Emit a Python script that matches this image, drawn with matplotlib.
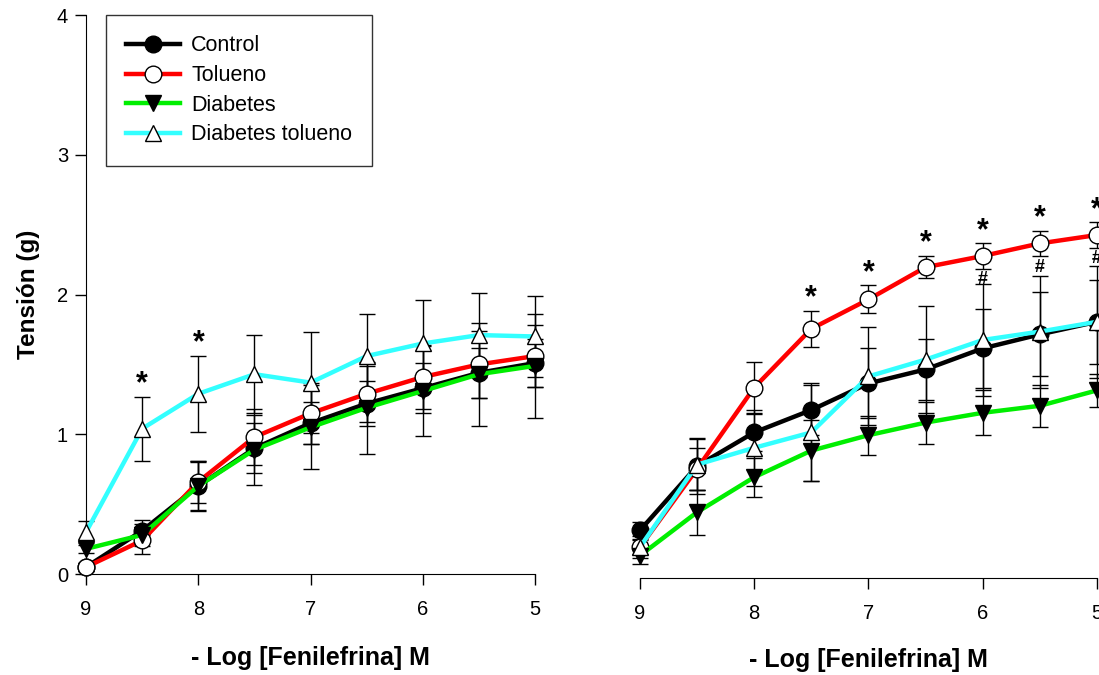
import numpy as np
import matplotlib
matplotlib.use("Agg")
import matplotlib.pyplot as plt

plt.rcParams['font.family'] = ['Liberation Sans', 'DejaVu Sans']

# concentraciones (- log M)
dosis = [9, 8.5, 8, 7.5, 7, 6.5, 6, 5.5, 5]

# panel izquierdo
izq_control = [0.05, 0.31, 0.63, 0.90, 1.08, 1.22, 1.33, 1.44, 1.51]
izq_control_err = [0.03, 0.08, 0.18, 0.18, 0.15, 0.16, 0.18, 0.18, 0.17]
izq_tolueno = [0.05, 0.24, 0.66, 0.98, 1.15, 1.29, 1.41, 1.50, 1.56]
izq_tolueno_err = [0.03, 0.10, 0.15, 0.20, 0.22, 0.20, 0.23, 0.24, 0.22]
izq_diabetes = [0.18, 0.28, 0.63, 0.89, 1.05, 1.19, 1.31, 1.43, 1.49]
izq_diabetes_err = [0.03, 0.08, 0.17, 0.25, 0.30, 0.33, 0.32, 0.37, 0.37]
izq_diab_tol = [0.30, 1.04, 1.29, 1.43, 1.37, 1.56, 1.65, 1.71, 1.70]
izq_diab_tol_err = [0.08, 0.23, 0.27, 0.28, 0.36, 0.30, 0.31, 0.30, 0.29]

# panel derecho
der_control = [0.34, 0.80, 1.04, 1.20, 1.39, 1.49, 1.64, 1.74, 1.83]
der_control_err = [0.06, 0.20, 0.13, 0.18, 0.25, 0.22, 0.28, 0.30, 0.30]
der_tolueno = [0.22, 0.78, 1.36, 1.78, 1.99, 2.22, 2.30, 2.39, 2.45]
der_tolueno_err = [0.05, 0.15, 0.18, 0.13, 0.10, 0.08, 0.09, 0.09, 0.09]
der_diabetes = [0.16, 0.47, 0.72, 0.91, 1.02, 1.11, 1.18, 1.23, 1.34]
der_diabetes_err = [0.06, 0.16, 0.14, 0.22, 0.14, 0.15, 0.16, 0.15, 0.12]
der_diab_tol = [0.22, 0.81, 0.93, 1.04, 1.44, 1.56, 1.70, 1.76, 1.83]
der_diab_tol_err = [0.08, 0.18, 0.27, 0.35, 0.35, 0.38, 0.40, 0.40, 0.40]

nombres = ["Control", "Tolueno", "Diabetes", "Diabetes tolueno"]
colores = ["black", "#ff0000", "#00ee00", "#33ffff"]
marcadores = ["o", "o", "v", "^"]
relleno = ["black", "white", "black", "white"]

izq_aster = [8.5, 8]
der_aster = [7.5, 7, 6.5, 6, 5.5, 5]
der_gato = [6, 5.5, 5]


def dibuja(ax, medias, errores, lp):
    for i in range(4):
        ax.errorbar(dosis, medias[i], yerr=errores[i], fmt='none', ecolor='black',
                    elinewidth=1, capsize=6, capthick=1, zorder=2, clip_on=False)
    for i in range(4):
        ax.plot(dosis, medias[i], color=colores[i], lw=3.2, marker=marcadores[i],
                markersize=12, markerfacecolor=relleno[i], markeredgecolor='black',
                markeredgewidth=1, label=nombres[i], zorder=3 + i, clip_on=False)
    ax.set_xlim(9, 5)
    ax.set_ylim(0, 4)
    ax.set_xticks([9, 8, 7, 6, 5])
    ax.spines['top'].set_visible(False)
    ax.spines['right'].set_visible(False)
    ax.tick_params(labelsize=14.5, length=8, width=1)
    ax.tick_params(axis='x', pad=11)
    ax.set_xlabel("- Log [Fenilefrina] M", fontsize=18, fontweight='bold', labelpad=lp)


fig = plt.figure(figsize=(10.99, 6.75), dpi=100)

ax1 = fig.add_axes([0.0783, 0.1496, 0.4086, 0.828])
dibuja(ax1, [izq_control, izq_tolueno, izq_diabetes, izq_diab_tol],
       [izq_control_err, izq_tolueno_err, izq_diabetes_err, izq_diab_tol_err], 19)
ax1.set_yticks([0, 1, 2, 3, 4])
ax1.tick_params(axis='y', pad=5)
ax1.spines['bottom'].set_bounds(9.06, 5)
ax1.set_ylabel("Tensión (g)", fontsize=17.5, fontweight='bold', labelpad=12)
for d in izq_aster:
    k = dosis.index(d)
    ax1.text(d, izq_diab_tol[k] + izq_diab_tol_err[k] + 0.09, "*", ha='center', va='center',
             fontsize=22, fontweight='bold')

leg = ax1.legend(loc='upper left', bbox_to_anchor=(106 / 1099, 1 - 15 / 675),
                 bbox_transform=fig.transFigure, borderaxespad=0, fontsize=15.5,
                 frameon=True, fancybox=False, edgecolor='black', handlelength=2.5,
                 handletextpad=0.5, borderpad=0.95, labelspacing=0.4)
leg.get_frame().set_linewidth(1)

ax2 = fig.add_axes([0.5823, 0.1437, 0.4158, 0.8296])
dibuja(ax2, [der_control, der_tolueno, der_diabetes, der_diab_tol],
       [der_control_err, der_tolueno_err, der_diabetes_err, der_diab_tol_err], 18)
ax2.spines['left'].set_visible(False)
ax2.set_yticks([])
for d in der_aster:
    k = dosis.index(d)
    ax2.text(d, der_tolueno[k] + der_tolueno_err[k] + 0.09, "*", ha='center', va='center',
             fontsize=22, fontweight='bold', clip_on=False)
for d in der_gato:
    k = dosis.index(d)
    ax2.text(d, der_tolueno[k] - der_tolueno_err[k] - 0.08, "#", ha='center', va='center',
             fontsize=13, fontweight='bold', clip_on=False)

fig.savefig("out.png", dpi=100)
